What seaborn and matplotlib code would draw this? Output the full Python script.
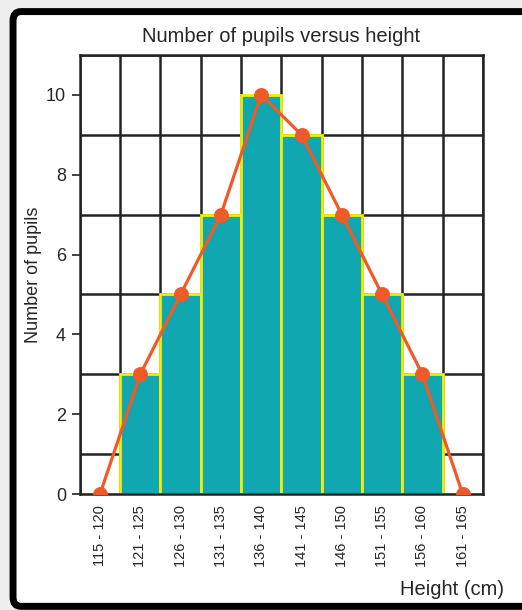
import matplotlib
matplotlib.use("Agg")
import matplotlib.pyplot as plt
import seaborn as sns
import pandas as pd
from matplotlib.patches import FancyBboxPatch

# data
height_bins = ["115 - 120", "121 - 125", "126 - 130", "131 - 135", "136 - 140",
               "141 - 145", "146 - 150", "151 - 155", "156 - 160", "161 - 165"]
pupils = [0, 3, 5, 7, 10, 9, 7, 5, 3, 0]
y_ticks = [0, 2, 4, 6, 8, 10]

teal = "#10a7b1"
yellow = "#f2ee00"
orange = "#f05a28"

df = pd.DataFrame({"height": height_bins, "pupils": pupils})

sns.set_style("white")
plt.rcParams["font.family"] = ["Liberation Sans", "DejaVu Sans"]

fig = plt.figure(figsize=(5.22, 6.1), dpi=100, facecolor="#eeeeee")
# black frame around the chart
frame = FancyBboxPatch((0.025, 0.006), 1.0, 0.975, boxstyle="round,pad=0,rounding_size=0.015",
                       transform=fig.transFigure, facecolor="white", edgecolor="black",
                       linewidth=5, zorder=-10)
fig.patches.append(frame)

ax = fig.add_axes([0.153, 0.19, 0.772, 0.72])
ax.set_facecolor("white")

sns.barplot(data=df, x="height", y="pupils", color=teal, width=1.0,
            edgecolor=yellow, linewidth=2, saturation=1, ax=ax, zorder=2)
sns.pointplot(data=df, x="height", y="pupils", color=orange, markers="o",
              markersize=9, linewidth=2.3, ax=ax, zorder=3)

ax.set_xlim(-0.5, 9.5)
ax.set_ylim(0, 11)

# grid every unit
ax.set_xticks([i - 0.5 for i in range(11)], minor=True)
ax.set_yticks(range(12), minor=True)
ax.grid(which="minor", color="#222222", linewidth=1.8, zorder=1)
ax.set_axisbelow(True)
for s in ax.spines.values():
    s.set_color("#222222")
    s.set_linewidth(1.8)

ax.set_yticks(y_ticks)
ax.set_yticklabels([str(v) for v in y_ticks], fontsize=13)
ax.set_xticks(range(len(height_bins)))
ax.set_xticklabels(height_bins, rotation=90, fontsize=10.5)
ax.tick_params(axis="y", which="major", length=6, width=1.2, color="#222222", left=True, pad=4)
ax.tick_params(axis="x", which="major", length=0, pad=8)
ax.tick_params(which="minor", length=0)

ax.set_xlabel("")
ax.set_ylabel("Number of pupils", fontsize=13, labelpad=3)
ax.set_title("Number of pupils versus height", fontsize=14.5, pad=9)
fig.text(0.965, 0.018, "Height (cm)", ha="right", va="bottom", fontsize=14.5)

fig.savefig("out.png", dpi=100, facecolor=fig.get_facecolor())
